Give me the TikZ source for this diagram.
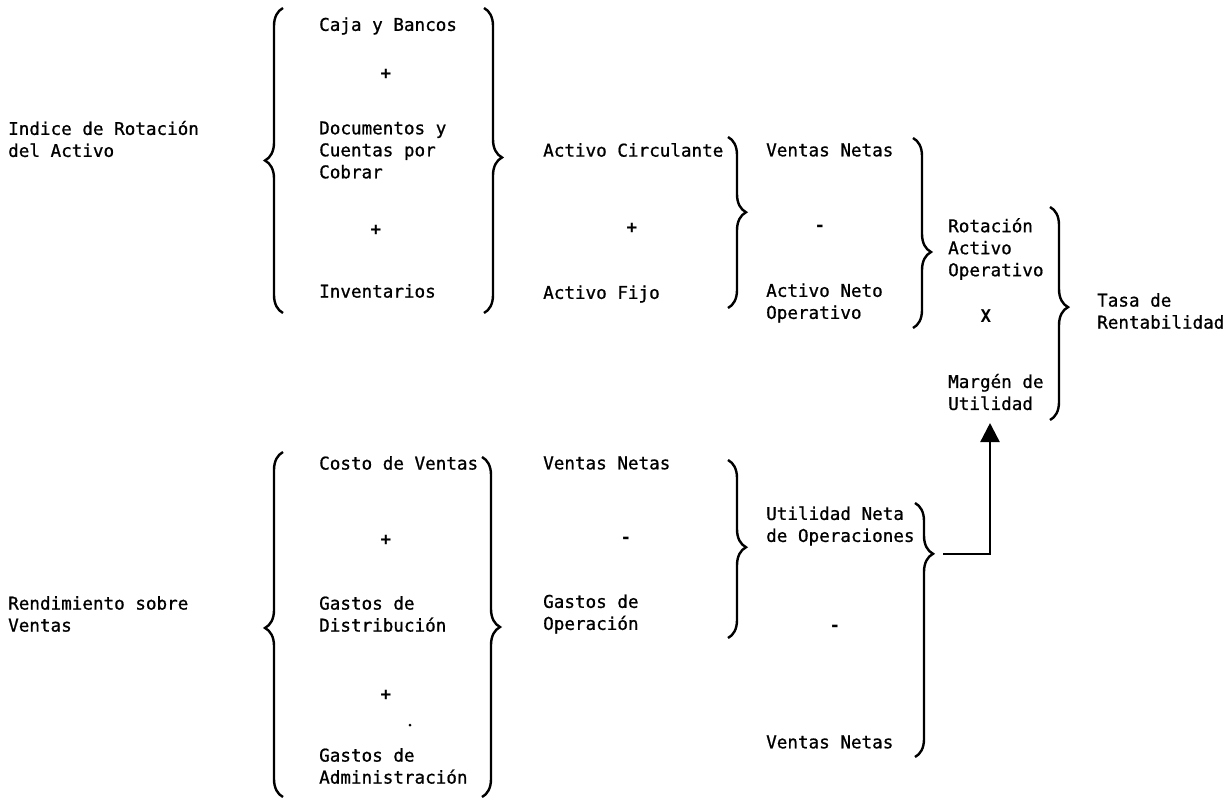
\documentclass[tikz,border=0pt]{standalone}
\usepackage{fontspec}
\newfontfamily\typ[UprightFeatures={FakeBold=0.9}]{DejaVu Sans Mono}
\usetikzlibrary{arrows.meta,decorations.pathreplacing}

\begin{document}
\begin{tikzpicture}[x=1pt,y=-1pt,font=\typ\fontsize{17.6}{22}\selectfont,
  txt/.style={anchor=west,inner sep=0pt,align=left},
  op/.style={inner sep=0pt,font=\typ\bfseries\fontsize{17.6}{22}\selectfont},
  brc/.style={decorate,decoration={brace,amplitude=18pt,aspect=#1},line width=2.4pt}]
\useasboundingbox (0,0) rectangle (1230,801);
% parte superior
\node[txt] (idx) at (8,139) {Indice de Rotación\\del Activo};
\node[txt] (caja) at (319,26) {Caja y Bancos};
\node[op] (p1) at (386,74) {+};
\node[txt] (docs) at (319,150) {Documentos y\\Cuentas por\\Cobrar};
\node[op] (p2) at (376,230) {+};
\node[txt] (inv) at (319,291) {Inventarios};
\node[txt] (acirc) at (543,150) {Activo Circulante};
\node[op] (p3) at (632,228) {+};
\node[txt] (afijo) at (543,294) {Activo Fijo};
\node[txt] (vn1) at (766,150) {Ventas Netas};
\node[op] (m1) at (820,228) {-};
\node[txt] (aneto) at (766,303) {Activo Neto\\Operativo};
\node[txt] (rot) at (948,249) {Rotación\\Activo\\Operativo};
\node[op] (x1) at (986,316) {X};
\node[txt] (margen) at (948,392) {Margén de\\Utilidad};
\node[txt] (tasa) at (1097,311) {Tasa de\\Rentabilidad};
\draw[brc=0.5] (283,313) -- (283,8);
\draw[brc=0.49] (484,8) -- (484,313);
\draw[brc=0.44] (728,137) -- (728,308);
\draw[brc=0.6] (913,138) -- (913,328);
\draw[brc=0.47] (1050,207) -- (1050,420);
% parte inferior
\node[txt] (rend) at (8,614) {Rendimiento sobre\\Ventas};
\node[txt] (costo) at (319,463) {Costo de Ventas};
\node[op] (p4) at (386,540) {+};
\node[txt] (gdist) at (319,614) {Gastos de\\Distribución};
\node[op] (p5) at (386,695) {+};
\fill (410,725) circle (1.5);
\node[txt] (gadm) at (319,766) {Gastos de\\Administración};
\node[txt] (vn2) at (543,463) {Ventas Netas};
\node[op] (m2) at (626,540) {-};
\node[txt] (gop) at (543,614) {Gastos de\\Operación};
\node[txt] (unop) at (766,526) {Utilidad Neta\\de Operaciones};
\node[op] (m3) at (835,628) {-};
\node[txt] (vn3) at (766,742) {Ventas Netas};
\draw[brc=0.49] (283,797) -- (283,452);
\draw[brc=0.5] (482,457) -- (482,797);
\draw[brc=0.49] (728,460) -- (728,638);
\draw[brc=0.2] (915,503) -- (915,757);
\coordinate (uno) at (943,554);
\coordinate (mu) at (990,423);
\draw[line width=2.4pt,-{Triangle[length=19pt,width=19pt]}] (uno) -| (mu);
\end{tikzpicture}
\end{document}
